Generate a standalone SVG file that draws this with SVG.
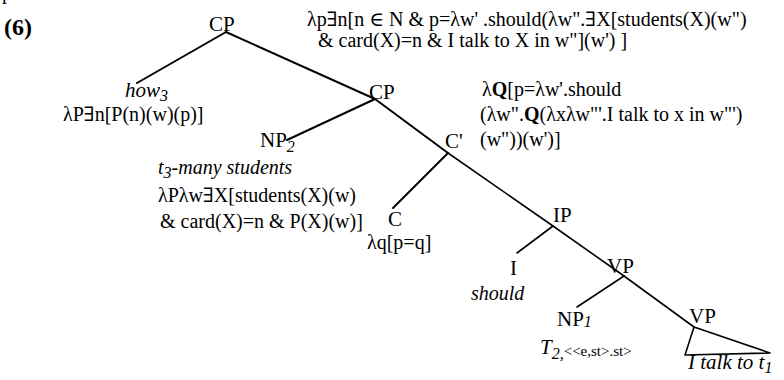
<svg xmlns="http://www.w3.org/2000/svg" width="784" height="380" viewBox="0 0 784 380">
<style>
text{font-family:"Liberation Serif","DejaVu Serif",serif;fill:#000}
.lab{font-size:21px}
.f{font-size:20px}
.it{font-style:italic}
.sub{font-size:16px;font-style:italic}
.b{font-weight:bold}
.e{stroke:#000;fill:none;stroke-linecap:round;stroke-linejoin:round}
.thick{stroke-width:2}
.thin{stroke-width:1.6}
</style>
<rect width="784" height="380" fill="#fff"/>
<text x="2" y="-1" class="f">p</text>
<text x="4" y="35" class="b" style="font-size:24px">(6)</text>
<g id="connectors">
<line class="e thick" x1="226" y1="32" x2="137" y2="83"/>
<line class="e thick" x1="226" y1="32" x2="375" y2="99"/>
<line class="e thick" x1="375" y1="99" x2="287" y2="140"/>
<line class="e thick" x1="375" y1="99" x2="448" y2="153"/>
<line class="e thick" x1="448" y1="153" x2="393" y2="208"/>
<line class="e thin" x1="448" y1="153" x2="553" y2="226"/>
<line class="e thin" x1="553" y1="226" x2="517" y2="253"/>
<line class="e thin" x1="553" y1="226" x2="624" y2="276"/>
<line class="e thin" x1="624" y1="276" x2="577" y2="307"/>
<line class="e thin" x1="624" y1="276" x2="694" y2="327"/>
<polygon class="e thin" points="694,327 685,355 770,353"/>
</g>
<g id="cp1">
<text x="209" y="31" class="lab">CP</text>
<text x="307" y="26" class="f">λp∃n[n ∈ N &amp; p=λw' .should(λw".∃X[students(X)(w")</text>
<text x="318" y="47" class="f">&amp; card(X)=n &amp; I talk to X in w"](w') ]</text>
</g>
<g id="how">
<text x="125" y="97" class="lab it">how<tspan class="sub" dy="4">3</tspan></text>
<text x="63" y="121" class="f">λP∃n[P(n)(w)(p)]</text>
</g>
<g id="cp2">
<text x="369" y="99" class="lab">CP</text>
</g>
<g id="np2">
<text x="260" y="147" class="lab">NP<tspan class="sub" dy="5">2</tspan></text>
<text x="158" y="174" class="f it">t<tspan class="sub" dy="4">3</tspan><tspan dy="-4">-many students</tspan></text>
<text x="158" y="202" class="f">λPλw∃X[students(X)(w)</text>
<text x="160" y="228" class="f">&amp; card(X)=n &amp; P(X)(w)]</text>
</g>
<g id="cbar">
<text x="445" y="148" class="lab">C'</text>
<text x="482" y="96" class="f">λ<tspan class="b">Q</tspan>[p=λw'.should</text>
<text x="480" y="121" class="f">(λw".<tspan class="b">Q</tspan>(λxλw"'.I talk to x in w"')</text>
<text x="480" y="146" class="f">(w"))(w')]</text>
</g>
<g id="c">
<text x="388" y="226" class="lab">C</text>
<text x="367" y="249" class="f">λq[p=q]</text>
</g>
<g id="ip">
<text x="553" y="222" class="lab">IP</text>
</g>
<g id="i">
<text x="510" y="275" class="lab">I</text>
<text x="471" y="300" class="f it">should</text>
</g>
<g id="vp1">
<text x="607" y="273" class="lab">VP</text>
</g>
<g id="np1">
<text x="557" y="326" class="lab">NP<tspan class="sub" dy="1">1</tspan></text>
<text x="540" y="354" class="lab it">T<tspan class="sub" dy="5">2,</tspan><tspan style="font-size:15px;font-style:normal" dy="-3">&lt;&lt;e,st&gt;.st&gt;</tspan></text>
</g>
<g id="vp2">
<text x="689" y="323" class="lab">VP</text>
<text x="688" y="369" class="lab it">I talk to t<tspan class="sub" dy="4">1</tspan></text>
</g>
</svg>
